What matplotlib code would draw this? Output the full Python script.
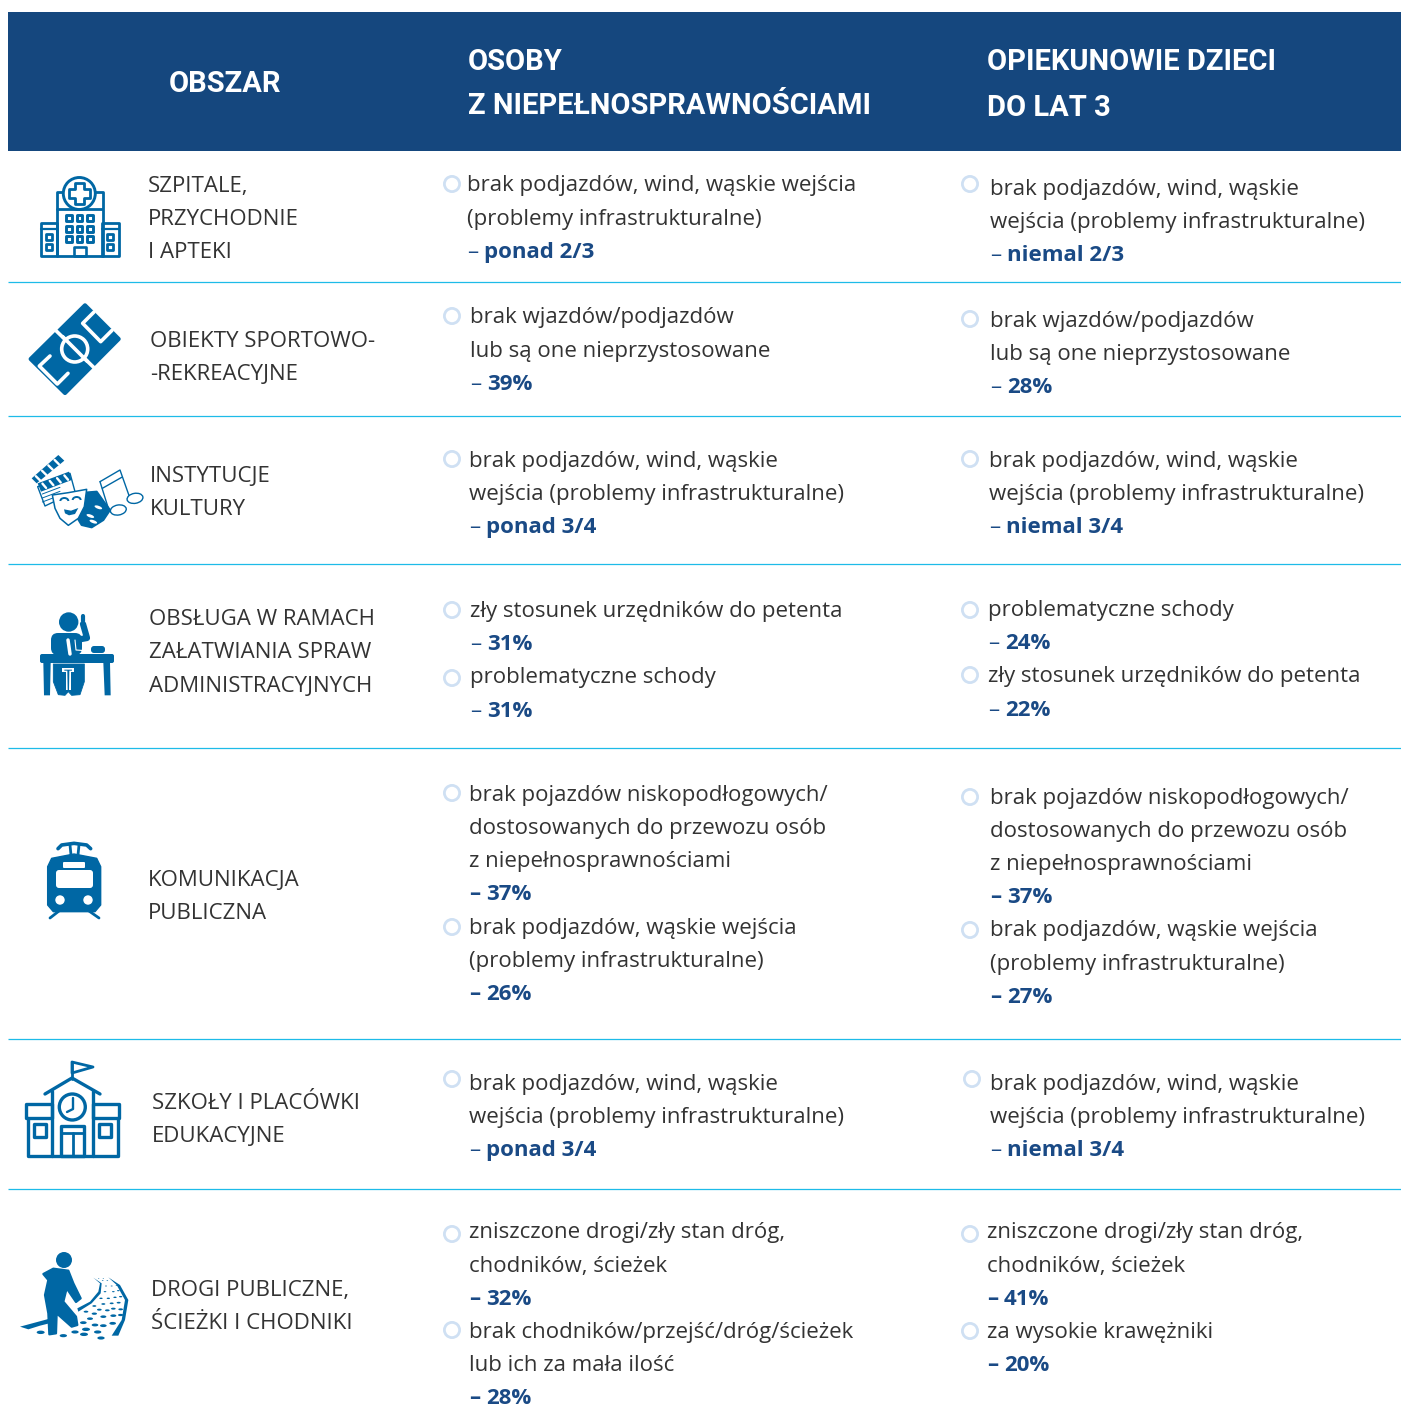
import matplotlib
matplotlib.use("Agg")
import matplotlib.pyplot as plt
from matplotlib.patches import Rectangle, Circle, Polygon, Ellipse, FancyBboxPatch, Arc
import numpy as np

W, H = 1401, 1405
NAVY = "#15477E"; CYAN = "#1DBBE8"; ICON = "#0067A4"; TXT = "#333333"; STAT = "#1A4A85"; RING = "#CFE0F3"
FONT = "Open Sans"; FS = 16.0

header_labels = [("OBSZAR", 169, 81), ("OSOBY", 468, 59), ("Z NIEPEŁNOSPRAWNOŚCIAMI", 468, 103),
                 ("OPIEKUNOWIE DZIECI", 987, 59), ("DO LAT 3", 987, 105)]
rule_ys = [282, 416, 564, 748, 1039, 1189]
area_labels = [
    (148, [184, 217, 250], ["SZPITALE,", "PRZYCHODNIE", "I APTEKI"]),
    (150, [339, 372], ["OBIEKTY SPORTOWO-", "-REKREACYJNE"]),
    (150, [474, 507], ["INSTYTUCJE", "KULTURY"]),
    (149, [617, 650, 684], ["OBSŁUGA W RAMACH", "ZAŁATWIANIA SPRAW", "ADMINISTRACYJNYCH"]),
    (148, [878, 911], ["KOMUNIKACJA", "PUBLICZNA"]),
    (152, [1101, 1134], ["SZKOŁY I PLACÓWKI", "EDUKACYJNE"]),
    (151, [1288, 1321], ["DROGI PUBLICZNE,", "ŚCIEŻKI I CHODNIKI"]),
]
# (bullet x, bullet y, text x, line ys, lines, statistic)
col_people = [
    (452, 184, 467, [183, 217, 250], ["brak podjazdów, wind, wąskie wejścia", "(problemy infrastrukturalne)"], "ponad 2/3"),
    (452, 316, 470, [315, 349, 382], ["brak wjazdów/podjazdów", "lub są one nieprzystosowane"], "39%"),
    (452, 459, 469, [459, 492, 525], ["brak podjazdów, wind, wąskie", "wejścia (problemy infrastrukturalne)"], "ponad 3/4"),
    (452, 610, 470, [609, 642], ["zły stosunek urzędników do petenta"], "31%"),
    (452, 678, 470, [675, 709], ["problematyczne schody"], "31%"),
    (452, 793, 469, [793, 826, 859, 892], ["brak pojazdów niskopodłogowych/", "dostosowanych do przewozu osób", "z niepełnosprawnościami"], "37%"),
    (452, 927, 469, [926, 959, 992], ["brak podjazdów, wąskie wejścia", "(problemy infrastrukturalne)"], "26%"),
    (452, 1079, 469, [1082, 1115, 1148], ["brak podjazdów, wind, wąskie", "wejścia (problemy infrastrukturalne)"], "ponad 3/4"),
    (452, 1234, 469, [1230, 1264, 1297], ["zniszczone drogi/zły stan dróg,", "chodników, ścieżek"], "32%"),
    (452, 1330, 469, [1330, 1363, 1396], ["brak chodników/przejść/dróg/ścieżek", "lub ich za mała ilość"], "28%"),
]
col_carers = [
    (970, 184, 990, [187, 220, 253], ["brak podjazdów, wind, wąskie", "wejścia (problemy infrastrukturalne)"], "niemal 2/3"),
    (970, 319, 990, [319, 352, 385], ["brak wjazdów/podjazdów", "lub są one nieprzystosowane"], "28%"),
    (970, 459, 989, [459, 492, 525], ["brak podjazdów, wind, wąskie", "wejścia (problemy infrastrukturalne)"], "niemal 3/4"),
    (970, 610, 988, [608, 641], ["problematyczne schody"], "24%"),
    (970, 675, 988, [674, 708], ["zły stosunek urzędników do petenta"], "22%"),
    (970, 797, 990, [796, 829, 862, 895], ["brak pojazdów niskopodłogowych/", "dostosowanych do przewozu osób", "z niepełnosprawnościami"], "37%"),
    (970, 930, 990, [928, 962, 995], ["brak podjazdów, wąskie wejścia", "(problemy infrastrukturalne)"], "27%"),
    (972, 1079, 990, [1082, 1115, 1148], ["brak podjazdów, wind, wąskie", "wejścia (problemy infrastrukturalne)"], "niemal 3/4"),
    (970, 1234, 987, [1230, 1264, 1297], ["zniszczone drogi/zły stan dróg,", "chodników, ścieżek"], "41%"),
    (970, 1331, 987, [1330, 1363], ["za wysokie krawężniki"], "20%"),
]
bold_dash_blocks = [5, 6, 8, 9]

fig = plt.figure(figsize=(W / 100, H / 100), dpi=100)
ax = fig.add_axes([0, 0, 1, 1])
ax.set_xlim(0, W); ax.set_ylim(H, 0); ax.axis("off")

ax.add_patch(Rectangle((8, 12), W - 8, 139, fc=NAVY, ec="none"))
for label, x, y in header_labels:
    ax.text(x, y, label, color="white", family="Roboto", weight="bold", fontsize=21, va="center_baseline", ha="left")
for y in rule_ys:
    ax.plot([8, W], [y, y], color=CYAN, lw=0.9, solid_capstyle="butt")

def line(x, cy, s, **kw):
    kw.setdefault("color", TXT); kw.setdefault("weight", "normal")
    return ax.text(x, cy + 8.4, s, family=FONT, fontsize=FS, va="baseline", ha="left", **kw)

for x, ys, labels in area_labels:
    for y, s in zip(ys, labels):
        line(x, y, s)
for col in (col_people, col_carers):
    for i, (bx, by, x, ys, lines_, stat) in enumerate(col):
        ax.add_patch(Circle((bx, by), 7.6, fc="white", ec=RING, lw=2.0))
        for y, s in zip(ys, lines_):
            line(x, y, s)
        line(x, ys[-1], "–", color=STAT, weight="bold" if i in bold_dash_blocks else "normal")
        line(x + 17, ys[-1], stat, color=STAT, weight="bold")

# ---- icons -----
def Z(ox, oy, pts):
    return [(ox + a / 3, oy + b / 3) for a, b in pts]
def rect(x0, y0, x1, y1, fill="none", lw=2.0, ec=ICON, z=2):
    ax.add_patch(Rectangle((x0, y0), x1 - x0, y1 - y0, fc=fill, ec=ec, lw=lw, joinstyle="round", zorder=z))
def rrect(x0, y0, x1, y1, r, fc=ICON):
    ax.add_patch(FancyBboxPatch((x0 + r, y0 + r), x1 - x0 - 2 * r, y1 - y0 - 2 * r, boxstyle=f"round,pad={r},rounding_size={r}", fc=fc, ec="none", zorder=2))
def poly(pts, fc=ICON, ec="none", lw=0, z=2):
    ax.add_patch(Polygon(pts, closed=True, fc=fc, ec=ec, lw=lw, joinstyle="round", zorder=z))
def pl(pts, c=ICON, lw=1.5, z=3):
    a = np.array(pts); ax.plot(a[:, 0], a[:, 1], color=c, lw=lw, solid_capstyle="round", solid_joinstyle="round", zorder=z)

# hospital
rect(56.5, 192, 102.5, 256, lw=2.0)
rect(40.5, 223, 57, 256, lw=2.0); rect(102, 223, 119, 256, lw=2.0)
pl([(41, 229), (57, 229)], lw=1.6); pl([(102, 229), (119, 229)], lw=1.6)
pl([(57, 209), (102, 209)], lw=2.0)
ax.add_patch(Circle((79.3, 193.5), 16, fc="white", ec=ICON, lw=2.1, zorder=3))
poly([(75, 183), (84, 183), (84, 189), (90, 189), (90, 198), (84, 198), (84, 204), (75, 204), (75, 198), (69, 198), (69, 189), (75, 189)], fc="white", ec=ICON, lw=2.0, z=4)
for wx in (69, 79.5, 90):
    for wy in (218, 229, 239):
        rect(wx - 2.8, wy - 2.8, wx + 2.8, wy + 2.8, lw=2.1)
for wx in (49, 110):
    for wy in (237, 247):
        rect(wx - 2.8, wy - 2.8, wx + 2.8, wy + 2.8, lw=2.0)
rect(74, 247, 86, 256, lw=1.9)

# pitch
poly(Z(0, 150, [(255, 466), (356, 567), (195, 729), (92, 627)]), ec=ICON, lw=3)
pl(Z(0, 150, [(168, 542), (283, 654)]), c="white", lw=2.6)
ax.add_patch(Circle((74.7, 349), 13, fc=ICON, ec="white", lw=2.6, zorder=4))
pl(Z(0, 150, [(188, 560), (262, 634)]), c="white", lw=2.6, z=5)
pl(Z(0, 150, [(282, 486), (248, 520), (302, 575), (336, 541)]), c="white", lw=2.6)
pl(Z(0, 150, [(150, 618), (118, 648), (172, 702), (204, 670)]), c="white", lw=2.6)

# clapper + masks + notes
O = (25, 450)
poly(Z(*O, [(38, 110), (135, 70), (150, 125), (60, 168)]), fc="white", ec=ICON, lw=1.0)
poly(Z(*O, [(20, 85), (100, 15), (118, 32), (35, 100)]), fc=ICON)
poly(Z(*O, [(38, 100), (132, 65), (140, 90), (48, 125)]), fc=ICON)
for t in np.linspace(0.12, 0.82, 4):
    a = np.array([38, 100]) + t * np.array([94, -35])
    pl(Z(*O, [tuple(a + np.array([3, 5])), tuple(a + np.array([14, 18]))]), c="white", lw=1.7, z=3)
    b = np.array([20, 85]) + t * np.array([80, -70])
    pl(Z(*O, [tuple(b + np.array([3, 2])), tuple(b + np.array([16, 15]))]), c="white", lw=1.7, z=3)
for dy in (0, 12, 24):
    pl(Z(*O, [(52, 132 + dy), (105, 112 + dy)]), lw=0.7)
poly(Z(*O, [(178, 128), (215, 125), (240, 160), (255, 180), (235, 210), (200, 232), (170, 225), (158, 205), (178, 170)]), ec=ICON, lw=1.5)
poly(Z(*O, [(82, 135), (130, 128), (185, 118), (178, 170), (160, 205), (130, 226), (105, 205), (90, 175)]), fc="white", ec=ICON, lw=1.1, z=3)
ax.add_patch(Arc((25 + 118 / 3, 450 + 153 / 3), 8, 6, theta1=180, theta2=360, ec=ICON, lw=1.4, zorder=5))
ax.add_patch(Arc((25 + 155 / 3, 450 + 150 / 3), 8, 6, theta1=180, theta2=360, ec=ICON, lw=1.4, zorder=5))
poly(Z(*O, [(117, 178), (138, 182), (160, 174), (150, 192), (132, 196), (120, 190)]), fc=ICON, z=5)
for p in [(220, 172), (196, 198), (205, 215)]:
    ax.add_patch(Ellipse((25 + p[0] / 3, 450 + p[1] / 3), 8, 3, angle=20, fc="white", ec="none", zorder=5))
pl(Z(*O, [(225, 95), (285, 60), (315, 145)]), lw=1.0)
pl(Z(*O, [(225, 95), (250, 175)]), lw=1.0)
pl(Z(*O, [(232, 115), (290, 82)]), lw=1.0)
for p in [(280, 180), (330, 145)]:
    ax.add_patch(Ellipse((25 + p[0] / 3, 450 + p[1] / 3), 16, 10, angle=-10, fc="white", ec=ICON, lw=1.0, zorder=5))

# person at desk
ax.add_patch(Circle((68.7, 622), 9.7, fc=ICON, ec="none"))
rrect(51, 633, 82, 655, 7)
pl([(76, 640), (87, 638), (83, 624)], lw=4.5)
pl([(83, 621), (83, 616)], lw=3)
pl([(75, 640), (76, 650), (90, 651)], c="white", lw=0.8, z=4)
rrect(91, 646, 105, 653, 3)
pl([(68, 640), (70, 654)], c="white", lw=2.5, z=4)
rrect(40, 654, 114, 663, 2)
poly(Z(0, 590, [(130, 218), (152, 218), (150, 316), (132, 316)]))
poly(Z(0, 590, [(310, 218), (330, 218), (332, 316), (314, 316)]))
poly(Z(0, 590, [(160, 222), (253, 222), (253, 275), (240, 314), (215, 316), (205, 305), (195, 316), (175, 314), (160, 275)]), ec=ICON, lw=0.6)
poly(Z(0, 590, [(187, 234), (222, 234), (222, 245), (212, 245), (212, 300), (198, 300), (198, 245), (187, 245)]), fc="white", z=3)
poly(Z(0, 590, [(193, 239), (216, 239), (216, 242), (208, 242), (207, 300), (203, 300), (202, 242), (193, 242)]), z=4)

# train
poly(Z(0, 590, [(143, 830), (155, 805), (222, 792), (290, 805), (302, 830), (302, 945), (285, 965), (160, 965), (143, 945)]), ec=ICON, lw=1)
rrect(56, 870, 93, 888, 3, fc="white")
rrect(63, 862, 85, 868, 1, fc="white")
for p in [(60, 900), (88, 900)]:
    ax.add_patch(Circle(p, 4.7, fc="white", ec="none", zorder=3))
pl(Z(0, 590, [(174, 776), (185, 765), (222, 760), (260, 765), (272, 776)]), lw=2.6)
pl([(70, 845), (71, 855)], lw=2); pl([(79, 845), (78, 855)], lw=2)
pl([(59, 911), (50, 918)], lw=2); pl([(89, 911), (99, 918)], lw=2)

# school
O = (0, 1050)
pl([(72, 1062), (72, 1079)], lw=2.0)
poly([(72, 1062), (93, 1067), (72, 1073)], fc="white", ec=ICON, lw=2.0)
pl([(45, 1094), (72, 1078), (100, 1094)], lw=2.4)
pl([(52, 1091), (52, 1156)], lw=2.4); pl([(93, 1091), (93, 1156)], lw=2.4)
rect(26, 1104, 52, 1118, lw=2.4); rect(93, 1104, 119, 1118, lw=2.4)
pl([(27.5, 1118), (27.5, 1156), (117.5, 1156), (117.5, 1118)], lw=2.4)
rect(33.5, 1124, 46, 1137, lw=2.4); rect(98.5, 1124, 111, 1137, lw=2.4)
ax.add_patch(Circle((72.3, 1107), 13, fc="none", ec=ICON, lw=2.4))
pl([(73, 1098), (73, 1109), (67, 1112)], lw=1.7)
rect(61, 1126, 84, 1156, lw=2.4)
pl([(61, 1132.5), (84, 1132.5)], lw=2.0); pl([(72.5, 1133), (72.5, 1156)], lw=2.0)

# walker on a path
ax.add_patch(Circle((64, 1260), 8, fc=ICON, ec="none", zorder=3))
poly(Z(*O, [(130, 672), (160, 656), (205, 662), (220, 700), (242, 745), (228, 756), (200, 715), (190, 755), (228, 800), (232, 825), (215, 830), (170, 790), (168, 850), (148, 853), (145, 790), (135, 735), (145, 690)]), ec=ICON, lw=1.6, z=3)
poly(Z(*O, [(60, 830), (145, 807), (148, 820), (120, 827), (85, 838)]))
poly(Z(*O, [(187, 795), (197, 790), (197, 805), (187, 805)]))
poly(Z(*O, [(232, 775), (270, 755), (295, 725), (300, 700), (280, 683), (305, 700), (302, 730), (275, 760), (235, 785)]))
poly(Z(*O, [(325, 682), (360, 705), (385, 750), (375, 810), (355, 857), (335, 857), (365, 810), (375, 750), (350, 705)]))
path_dots = [(122, 847, 24), (190, 857, 22), (225, 846, 22), (258, 838, 24), (293, 846, 22), (303, 864, 22), (252, 853, 24),
             (220, 822, 20), (250, 818, 20), (285, 825, 20), (310, 827, 20), (338, 820, 20), (270, 806, 18), (310, 800, 18),
             (340, 797, 18), (362, 795, 16), (258, 785, 14), (283, 791, 16), (298, 779, 14), (322, 781, 14), (340, 776, 14),
             (362, 778, 14), (283, 768, 12), (310, 762, 12), (335, 760, 12), (356, 758, 12), (303, 745, 10), (325, 745, 10),
             (345, 742, 10), (362, 740, 10), (315, 725, 8), (340, 725, 8), (355, 722, 8), (318, 708, 6), (335, 708, 6),
             (350, 706, 6), (308, 692, 5), (322, 692, 5), (296, 685, 4), (310, 685, 4)]
for dx, dy, dw in path_dots:
    ax.add_patch(Ellipse((dx / 3, 1050 + dy / 3), dw / 3, dw / 7, fc=ICON, ec="none", zorder=2))

fig.savefig("out.png", dpi=100, facecolor="white")
